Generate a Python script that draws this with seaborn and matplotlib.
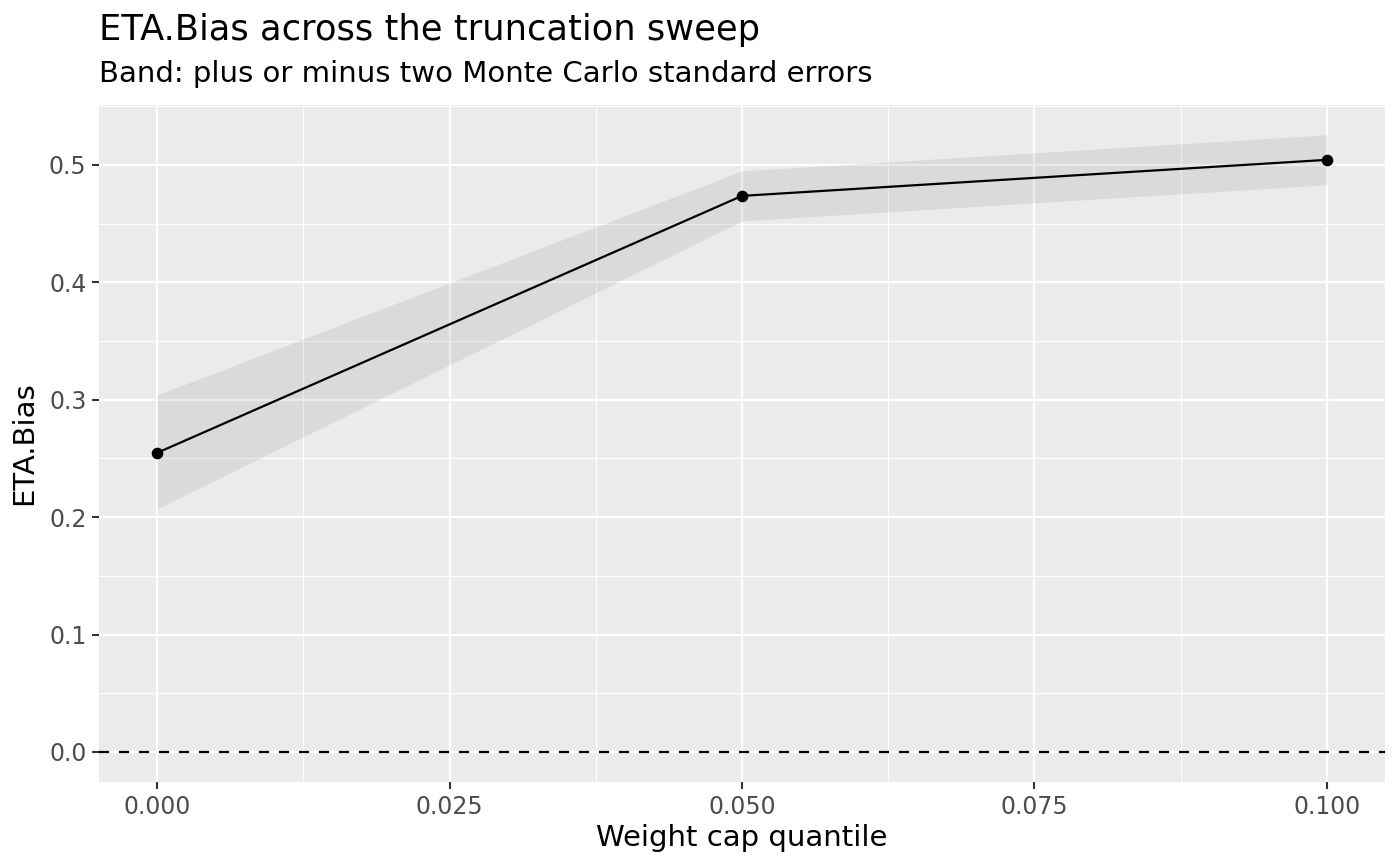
import matplotlib
matplotlib.use("Agg")
import matplotlib.pyplot as plt
import seaborn as sns
import pandas as pd
import numpy as np
from matplotlib.ticker import MultipleLocator

cap_quantile = [0.0, 0.05, 0.10]
eta_bias = [0.2547, 0.4736, 0.5043]
band_lower = [0.2070, 0.4523, 0.4830]
band_upper = [0.3040, 0.4949, 0.5256]
x_ticks = [0.0, 0.025, 0.05, 0.075, 0.10]
x_tick_labels = ["0.000", "0.025", "0.050", "0.075", "0.100"]
y_ticks = [0.0, 0.1, 0.2, 0.3, 0.4, 0.5]
y_tick_labels = ["0.0", "0.1", "0.2", "0.3", "0.4", "0.5"]

df = pd.DataFrame({"q": cap_quantile, "bias": eta_bias, "lo": band_lower, "hi": band_upper})

sns.set_theme(style="darkgrid")
plt.rcParams['font.family'] = ['DejaVu Sans']

fig = plt.figure(figsize=(14, 8.66), dpi=100)
ax = fig.add_axes([99/1400, 1-782/866, (1385-99)/1400, (782-105)/866])
ax.set_facecolor("#EBEBEB")

ax.fill_between(df["q"], df["lo"], df["hi"], color="#999999", alpha=0.2, linewidth=0, zorder=2)
ax.axhline(0, color="black", linestyle=(0, (4.5, 4.5)), linewidth=1.6, zorder=3)
sns.lineplot(data=df, x="q", y="bias", ax=ax, color="black", linewidth=1.6, zorder=4)
sns.scatterplot(data=df, x="q", y="bias", ax=ax, color="black", s=70, edgecolor="black", linewidth=0, zorder=5)

ax.set_xlim(-0.00496, 0.10496)
ax.set_ylim(-0.0256, 0.551)
ax.set_xticks(x_ticks)
ax.set_xticklabels(x_tick_labels)
ax.set_yticks(y_ticks)
ax.set_yticklabels(y_tick_labels)
ax.xaxis.set_minor_locator(MultipleLocator(0.0125))
ax.yaxis.set_minor_locator(MultipleLocator(0.05))
ax.grid(which="major", color="white", linewidth=1.6)
ax.grid(which="minor", color="white", linewidth=0.8)
ax.set_axisbelow(True)
for s in ax.spines.values():
    s.set_visible(False)
ax.tick_params(axis="both", which="major", labelsize=17, labelcolor="#4D4D4D", color="#333333",
               length=5, width=1.5, left=True, bottom=True, pad=4)
ax.tick_params(which="minor", length=0)
ax.set_xlabel("Weight cap quantile", fontsize=21, color="black", labelpad=4)
ax.set_ylabel("ETA.Bias", fontsize=21, color="black", labelpad=8)

fig.text(99/1400, 1-30/866, "ETA.Bias across the truncation sweep", fontsize=25.4, va="center", ha="left", color="black")
fig.text(99/1400, 1-74/866, "Band: plus or minus two Monte Carlo standard errors", fontsize=21, va="center", ha="left", color="black")

fig.savefig("out.png", dpi=100, facecolor="white")
